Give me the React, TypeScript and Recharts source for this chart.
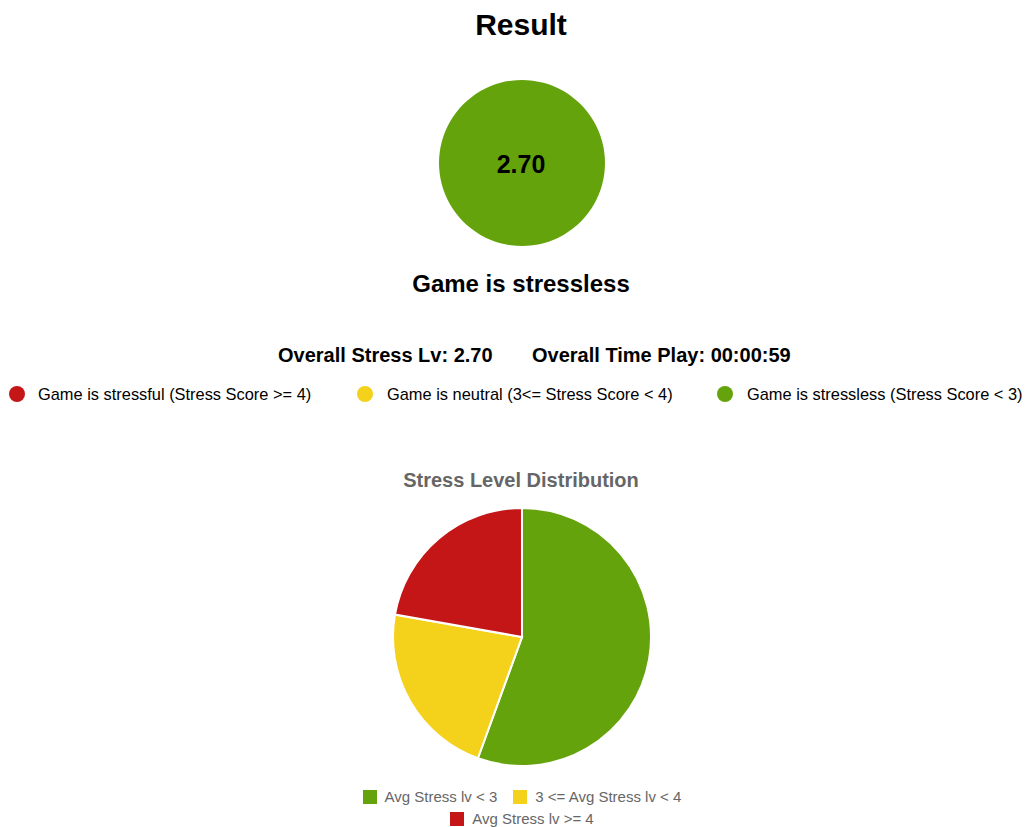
import React from "react";
import { PieChart, Pie, Cell } from "recharts";

const overallScore = 2.7;
const overallTime = "00:00:59";
const verdict = "Game is stressless";

const levelLabels = [
  "Game is stressful (Stress Score >= 4)",
  "Game is neutral (3<= Stress Score < 4)",
  "Game is stressless (Stress Score < 3)"
];
const levelColors = ["#c41616", "#f4d11b", "#65a30d"];

const distLabels = ["Avg Stress lv < 3", "3 <= Avg Stress lv < 4", "Avg Stress lv >= 4"];
const distValues = [5, 2, 2];
const distColors = ["#65a30d", "#f4d11b", "#c41616"];

const FONT = "'Liberation Sans', Arial, Helvetica, sans-serif";

function Centered({ top, size, color = "#000", bold = true, children }: any) {
  return (
    <div
      style={{
        position: "absolute",
        left: 221,
        width: 600,
        top,
        textAlign: "center",
        fontSize: size,
        lineHeight: `${size}px`,
        fontWeight: bold ? 700 : 400,
        color,
        whiteSpace: "nowrap"
      }}
    >
      {children}
    </div>
  );
}

const dotX = [17, 365, 725];
const textX = [38, 387, 747];

export default function App() {
  const scoreData = [{ name: "score", value: overallScore }];
  const distData = distLabels.map((label, i) => ({ label, value: distValues[i] }));

  return (
    <div
      style={{
        position: "absolute",
        left: 0,
        top: 0,
        width: 1028,
        height: 827,
        fontFamily: FONT,
        background: "#fff"
      }}
    >
      <Centered top={10} size={30}>Result</Centered>

      <div style={{ position: "absolute", left: 422, top: 63 }}>
        <PieChart width={200} height={200} margin={{ top: 0, right: 0, bottom: 0, left: 0 }}>
          <Pie
            data={scoreData}
            dataKey="value"
            cx={100}
            cy={100}
            outerRadius={83}
            startAngle={90}
            endAngle={-270}
            stroke="none"
            isAnimationActive={false}
          >
            <Cell fill="#65a30d" />
          </Pie>
        </PieChart>
      </div>
      <Centered top={152} size={25}>{overallScore.toFixed(2)}</Centered>

      <Centered top={272} size={24}>{verdict}</Centered>

      <div style={{ position: "absolute", left: 278, top: 345, fontSize: 20, lineHeight: "20px", fontWeight: 700, whiteSpace: "nowrap" }}>
        Overall Stress Lv: {overallScore.toFixed(2)}
      </div>
      <div style={{ position: "absolute", left: 532, top: 345, fontSize: 20, lineHeight: "20px", fontWeight: 700, whiteSpace: "nowrap" }}>
        Overall Time Play: {overallTime}
      </div>

      {levelLabels.map((label, i) => (
        <React.Fragment key={label}>
          <div
            style={{
              position: "absolute",
              left: dotX[i] - 8,
              top: 386,
              width: 16,
              height: 16,
              borderRadius: 8,
              background: levelColors[i]
            }}
          />
          <div
            style={{
              position: "absolute",
              left: textX[i],
              top: 386,
              fontSize: 16.4,
              lineHeight: "17px",
              whiteSpace: "nowrap",
              color: "#000"
            }}
          >
            {label}
          </div>
        </React.Fragment>
      ))}

      <Centered top={470} size={20} color="#666">Stress Level Distribution</Centered>

      <div style={{ position: "absolute", left: 322, top: 497 }}>
        <PieChart width={400} height={280} margin={{ top: 0, right: 0, bottom: 0, left: 0 }}>
          <Pie
            data={distData}
            dataKey="value"
            nameKey="label"
            cx={200}
            cy={140}
            outerRadius={129}
            startAngle={90}
            endAngle={-270}
            stroke="#fff"
            strokeWidth={2}
            isAnimationActive={false}
          >
            {distData.map((d, i) => (
              <Cell key={d.label} fill={distColors[i]} />
            ))}
          </Pie>
        </PieChart>
      </div>

      <div
        style={{
          position: "absolute",
          left: 352,
          top: 789,
          width: 340,
          display: "flex",
          flexWrap: "wrap",
          justifyContent: "center",
          columnGap: 16,
          rowGap: 7,
          color: "#666",
          fontSize: 15,
          lineHeight: "15px"
        }}
      >
        {distLabels.map((label, i) => (
          <div key={label} style={{ display: "flex", alignItems: "center", whiteSpace: "nowrap" }}>
            <span style={{ display: "inline-block", width: 14, height: 14, background: distColors[i], marginRight: 8 }} />
            <span>{label}</span>
          </div>
        ))}
      </div>
    </div>
  );
}
